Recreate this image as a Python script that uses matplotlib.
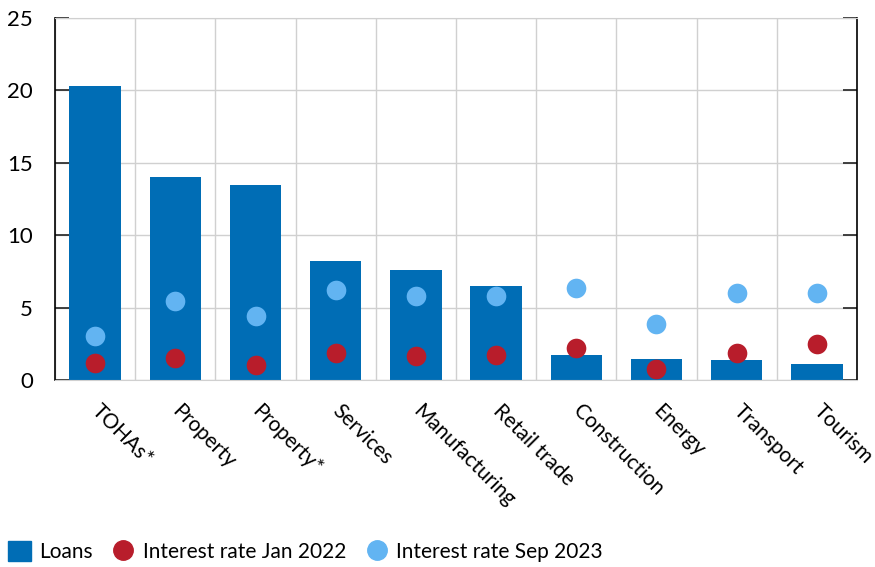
import numpy as np
import matplotlib.pyplot as plt
from matplotlib.patches import Patch
from matplotlib.lines import Line2D

plt.rcParams['font.family'] = ['Lato', 'DejaVu Sans']

# Data
sectors = ['TOHAs*', 'Property', 'Property*', 'Services', 'Manufacturing',
           'Retail trade', 'Construction', 'Energy', 'Transport', 'Tourism']
loans = [20.3, 14.0, 13.47, 8.22, 7.6, 6.5, 1.75, 1.45, 1.38, 1.1]
rate_jan_2022 = [1.15, 1.5, 1.04, 1.86, 1.66, 1.73, 2.21, 0.76, 1.86, 2.49]
rate_sep_2023 = [3.04, 5.46, 4.42, 6.2, 5.8, 5.8, 6.33, 3.85, 6.0, 6.03]

bar_col = '#006db5'
red_col = '#b81d2b'
light_col = '#62b4f2'
grid_col = '#d0d0d0'

fig = plt.figure(figsize=(8.75, 5.67), dpi=100)
ax = fig.add_axes([0.0629, 0.3298, 0.9165, 0.6384])

x = np.arange(len(sectors))
ax.bar(x, loans, width=0.64, color=bar_col, zorder=2)
ax.scatter(x, rate_jan_2022, s=200, color=red_col, zorder=3, linewidths=0)
ax.scatter(x, rate_sep_2023, s=200, color=light_col, zorder=3, linewidths=0)

ax.set_xlim(-0.5, len(sectors) - 0.5)
ax.set_ylim(0, 25)
ax.set_yticks([0, 5, 10, 15, 20, 25])

ax.set_xticks(x)
ax.set_xticklabels(sectors, rotation=-45, ha='left', va='center',
                   rotation_mode='anchor', fontsize=15)
ax.set_xticks(np.arange(len(sectors) + 1) - 0.5, minor=True)
ax.tick_params(axis='x', which='both', length=0, pad=20)
ax.tick_params(axis='y', direction='in', length=10, width=1.2,
               labelsize=16, pad=16, right=True, color='#222222')

ax.grid(axis='y', color=grid_col, lw=1, zorder=0)
ax.grid(axis='x', which='minor', color=grid_col, lw=1, zorder=0)
ax.set_axisbelow(True)

for s in ['top', 'bottom']:
    ax.spines[s].set_color(grid_col)
for s in ['left', 'right']:
    ax.spines[s].set_color('black')
    ax.spines[s].set_linewidth(1.2)

handles = [
    Patch(color=bar_col, label='Loans'),
    Line2D([], [], marker='o', ls='', color=red_col, markersize=14,
           label='Interest rate Jan 2022'),
    Line2D([], [], marker='o', ls='', color=light_col, markersize=14,
           label='Interest rate Sep 2023'),
]
fig.legend(handles=handles, loc='lower left', bbox_to_anchor=(-0.012, -0.025),
           ncol=3, frameon=False, fontsize=15, handlelength=1.1,
           handleheight=1.1, handletextpad=0.4, columnspacing=0.9)

fig.savefig('out.png', dpi=100)
